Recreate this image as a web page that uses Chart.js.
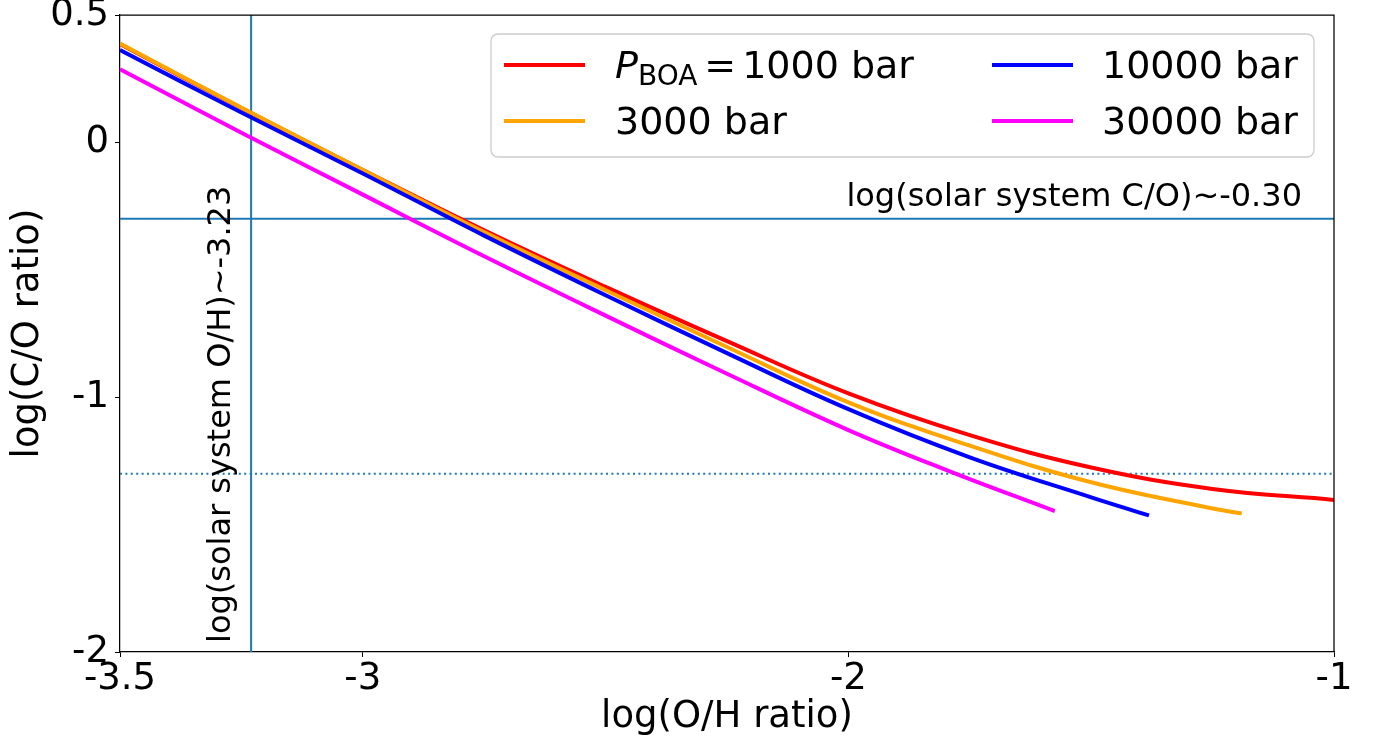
<!DOCTYPE html>
<html>
<head>
<meta charset="utf-8">
<script src="https://cdn.jsdelivr.net/npm/chart.js@4.4.0/dist/chart.umd.min.js"></script>
<style>
  html, body { margin: 0; padding: 0; background: #fff; }
  #wrap { width: 1377px; height: 745px; }
</style>
</head>
<body>
<div id="wrap"><canvas id="coChart" width="1377" height="745"></canvas></div>
<script>
// log(O/H) positions and log(C/O) values, one pair of arrays per pressure
const xRed = [-3.5, -3.25, -3.0, -2.75, -2.5, -2.25, -2.0, -1.75, -1.5, -1.25, -1.0];
const yRed = [0.386, 0.135, -0.108, -0.345, -0.567, -0.780, -0.985, -1.149, -1.276, -1.360, -1.403];

const xOrange = [-3.5, -3.25, -3.0, -2.75, -2.5, -2.25, -2.0, -1.75, -1.5, -1.25, -1.19];
const yOrange = [0.388, 0.136, -0.108, -0.352, -0.580, -0.803, -1.020, -1.190, -1.334, -1.437, -1.456];

const xBlue = [-3.5, -3.25, -3.0, -2.75, -2.5, -2.25, -2.0, -1.75, -1.5, -1.381];
const yBlue = [0.363, 0.117, -0.122, -0.366, -0.600, -0.827, -1.047, -1.236, -1.393, -1.464];

const xMagenta = [-3.5, -3.25, -3.0, -2.75, -2.5, -2.25, -2.0, -1.79, -1.575];
const yMagenta = [0.287, 0.038, -0.205, -0.447, -0.680, -0.908, -1.129, -1.292, -1.447];

const seriesLabels = ['1000 bar', '3000 bar', '10000 bar', '30000 bar'];
const seriesColors = ['#ff0000', '#ffa500', '#0000ff', '#ff00ff'];

// reference values
const solarCO = -0.30;
const solarOH = -3.23;
const dottedCO = -1.30;

const xRange = [-3.5, -1];
const yRange = [-2, 0.5];
const xTicks = [-3.5, -3, -2, -1];
const xTickLabels = ['-3.5', '-3', '-2', '-1'];
const yTicks = [0.5, 0, -1, -2];
const yTickLabels = ['0.5', '0', '-1', '-2'];

const FONT = 'DejaVu Sans';
const refColor = '#1f77b4';

function pts(xs, ys) {
    return xs.map((x, i) => ({x: x, y: ys[i]}));
}

function curve(i, xs, ys) {
    return {
        label: seriesLabels[i],
        data: pts(xs, ys),
        borderColor: seriesColors[i],
        borderWidth: 4,
        pointRadius: 0,
        fill: false,
        tension: 0.4,
        order: 4 - i
    };
}

function refLine(data, dash) {
    return {
        label: '',
        data: data,
        borderColor: refColor,
        borderWidth: 2,
        borderDash: dash,
        pointRadius: 0,
        fill: false,
        order: 5
    };
}

// top/right spines plus the text annotations
const framePlugin = {
    id: 'frame',
    afterDatasetsDraw(chart) {
        const {ctx, chartArea: ca, scales} = chart;
        ctx.save();
        ctx.strokeStyle = '#000';
        ctx.lineWidth = 1.25;
        ctx.beginPath();
        ctx.moveTo(ca.left, ca.top);
        ctx.lineTo(ca.right, ca.top);
        ctx.lineTo(ca.right, ca.bottom);
        ctx.stroke();

        ctx.fillStyle = '#000';
        ctx.font = '32px "' + FONT + '"';
        ctx.textBaseline = 'alphabetic';
        ctx.textAlign = 'right';
        ctx.fillText('log(solar system C/O)~-0.30', ca.right - 32, scales.y.getPixelForValue(solarCO) - 13);

        ctx.translate(scales.x.getPixelForValue(solarOH) - 21, ca.bottom - 9);
        ctx.rotate(-Math.PI / 2);
        ctx.textAlign = 'left';
        ctx.fillText('log(solar system O/H)~-3.23', 0, 0);
        ctx.restore();
    }
};

// two-column legend in a rounded box, with P_BOA written as math text
const legendPlugin = {
    id: 'boxLegend',
    afterDraw(chart) {
        const {ctx, chartArea: ca} = chart;
        const bx = ca.right - 843, by = ca.top + 19, bw = 823, bh = 123;
        ctx.save();
        ctx.beginPath();
        ctx.roundRect(bx, by, bw, bh, 7);
        ctx.fillStyle = 'rgba(255,255,255,0.8)';
        ctx.fill();
        ctx.strokeStyle = '#cccccc';
        ctx.lineWidth = 1.3;
        ctx.stroke();

        const handleX = [bx + 13, bx + 501];
        const textX = [bx + 124, bx + 611];
        const rowY = [by + 31, by + 87];
        const mainFont = '38px "' + FONT + '"';
        chart.data.datasets.slice(0, 4).forEach((ds, i) => {
            const col = Math.floor(i / 2), row = i % 2;
            const cy = rowY[row];
            ctx.strokeStyle = ds.borderColor;
            ctx.lineWidth = 4;
            ctx.beginPath();
            ctx.moveTo(handleX[col], cy);
            ctx.lineTo(handleX[col] + 81, cy);
            ctx.stroke();

            ctx.fillStyle = '#000';
            ctx.textAlign = 'left';
            ctx.textBaseline = 'alphabetic';
            let x = textX[col];
            const base = cy + 13;
            if (i === 0) {
                ctx.font = 'italic 38px "' + FONT + '"';
                ctx.fillText('P', x, base);
                x += ctx.measureText('P').width;
                ctx.font = '28px "' + FONT + '"';
                ctx.fillText('BOA', x, base + 7);
                x += ctx.measureText('BOA').width + 7;
                ctx.font = mainFont;
                ctx.fillText('=', x, base);
                x += ctx.measureText('=').width + 6;
            }
            ctx.font = mainFont;
            ctx.fillText(ds.label, x, base);
        });
        ctx.restore();
    }
};

const ctx = document.getElementById('coChart');
new Chart(ctx, {
    type: 'line',
    data: {
        datasets: [
            curve(0, xRed, yRed),
            curve(1, xOrange, yOrange),
            curve(2, xBlue, yBlue),
            curve(3, xMagenta, yMagenta),
            refLine(pts(xRange, [solarCO, solarCO]), []),
            refLine(pts(xRange, [dottedCO, dottedCO]), [2, 3.4]),
            refLine(pts([solarOH, solarOH], yRange), [])
        ]
    },
    options: {
        responsive: false,
        devicePixelRatio: 1,
        animation: false,
        layout: { padding: { left: 0, right: 43, top: 15, bottom: 0 } },
        plugins: {
            legend: { display: false },
            tooltip: { enabled: false }
        },
        scales: {
            x: {
                type: 'linear',
                min: xRange[0],
                max: xRange[1],
                afterBuildTicks: s => { s.ticks = xTicks.map(v => ({value: v})); },
                afterFit: s => { s.height = 93; s.paddingLeft = 0; s.paddingRight = 0; },
                ticks: {
                    callback: v => xTickLabels[xTicks.indexOf(v)],
                    font: { family: FONT, size: 37 },
                    color: '#000',
                    padding: 0,
                    maxRotation: 0,
                    autoSkip: false
                },
                grid: { drawOnChartArea: false, drawTicks: true, tickLength: 5, color: '#000' },
                border: { color: '#000', width: 1.25 },
                title: {
                    display: true,
                    text: 'log(O/H ratio)',
                    font: { family: FONT, size: 37 },
                    color: '#000',
                    padding: { top: 0, bottom: 5 }
                }
            },
            y: {
                type: 'linear',
                min: yRange[0],
                max: yRange[1],
                afterBuildTicks: s => { s.ticks = yTicks.map(v => ({value: v})); },
                afterFit: s => { s.width = 120; s.paddingTop = 0; s.paddingBottom = 0; },
                ticks: {
                    callback: v => yTickLabels[yTicks.indexOf(v)],
                    font: { family: FONT, size: 37 },
                    color: '#000',
                    padding: 6,
                    autoSkip: false
                },
                grid: { drawOnChartArea: false, drawTicks: true, tickLength: 5, color: '#000' },
                border: { color: '#000', width: 1.25 },
                title: {
                    display: true,
                    text: 'log(C/O ratio)',
                    font: { family: FONT, size: 37 },
                    color: '#000',
                    padding: { top: 6, bottom: 0 }
                }
            }
        }
    },
    plugins: [framePlugin, legendPlugin]
});
</script>
</body>
</html>
